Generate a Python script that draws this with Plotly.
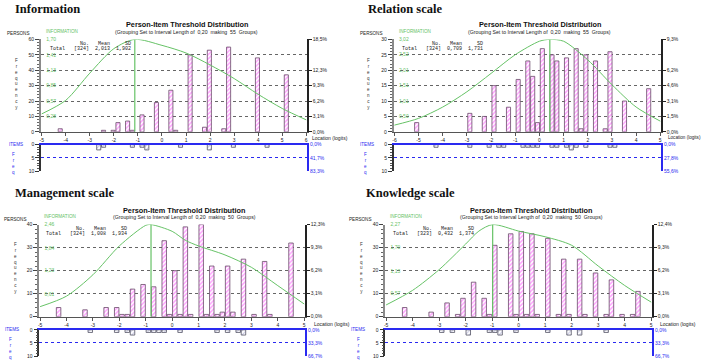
import plotly.graph_objects as go

W, H = 702, 364

# ---------------- data ----------------
titles = ["Information", "Relation scale", "Management scale", "Knowledge scale"]
groups = ["55", "55", "50", "50"]
stat_n = ["[324]", "[324]", "[324]", "[323]"]
stat_mean = ["2,013", "0,709", "1,008", "0,432"]
stat_sd = ["1,902", "1,731", "1,934", "1,374"]

x_ranges = [[-5, 6], [-6, 5], [-5, 5], [-5, 5]]
y_max = [60, 30, 40, 40]
y_dtick = [10, 5, 10, 10]
info_max = [1.70, 3.02, 2.46, 2.27]
info_ticks = [[0.28, 0.57, 0.85, 1.13, 1.41, 1.70],
              [0.50, 1.01, 1.51, 2.01, 2.52, 3.02],
              [0.61, 1.23, 1.84, 2.46],
              [0.57, 1.13, 1.70, 2.27]]
pct_vals = [[0, 10, 20, 30, 40, 60], [0, 5, 10, 15, 20, 30], [0, 10, 20, 30, 40], [0, 10, 20, 30, 40]]
pct_text = [["0,0%", "3,1%", "6,2%", "9,3%", "12,3%", "18,5%"],
            ["0,0%", "1,5%", "3,1%", "4,6%", "6,2%", "9,3%"],
            ["0,0%", "3,1%", "6,2%", "9,3%", "12,3%"],
            ["0,0%", "3,1%", "6,2%", "9,3%", "12,4%"]]
item_vals = [0, 5, 10]
item_pct_text = [["0,0%", "41,7%", "83,3%"], ["0,0%", "27,8%", "55,6%"],
                 ["0,0%", "33,3%", "66,7%"], ["0,0%", "33,3%", "66,7%"]]

# persons
p1_loc = [-4.23, -2.43, -2.03, -1.83, -1.43, -1.23, -0.83, -0.23, 0.37, 0.57, 1.17, 1.77, 1.97, 2.57, 2.77, 3.97, 5.17]
p1_cnt = [2, 1, 1, 6, 7, 1, 11, 19, 27, 1, 50, 3, 53, 2, 55, 48, 37]
p2_loc = [-5.08, -2.88, -2.28, -1.88, -1.28, -0.88, -0.48, -0.28, -0.08, 0.12, 0.52, 0.72, 1.12, 1.52, 1.72, 1.92, 2.32, 2.72, 2.92, 3.52, 4.52]
p2_cnt = [3, 6, 5, 15, 8, 17, 23, 18, 3, 27, 25, 23, 24, 27, 1, 25, 23, 1, 26, 10, 14]
p3_loc = [-4.3, -3.3, -2.5, -2.1, -1.9, -1.7, -1.5, -1.1, -0.7, -0.3, -0.1, 0.1, 0.3, 0.5, 0.7, 1.1, 1.3, 1.5, 1.7, 1.9, 2.1, 2.3, 2.7, 3.1, 3.5, 3.7, 4.5]
p3_cnt = [4, 3, 4, 4, 1, 1, 12, 14, 13, 33, 1, 20, 1, 39, 1, 40, 1, 22, 1, 2, 22, 2, 25, 1, 24, 1, 32]
p4_loc = [-4.3, -3.3, -2.7, -2.3, -2.1, -1.7, -1.3, -1.1, -0.9, -0.3, -0.1, 0.1, 0.3, 0.5, 0.7, 1.1, 1.5, 1.7, 1.9, 2.3, 2.5, 2.9, 3.3, 3.5, 3.9, 4.3, 4.5]
p4_cnt = [4, 2, 6, 1, 8, 15, 8, 1, 31, 36, 1, 37, 1, 36, 1, 34, 1, 25, 1, 25, 1, 19, 1, 16, 1, 1, 11]

# items
i1_loc = [-2.63, -2.43, -1.23, -0.83, -0.63, 0.77, 1.97, 2.97, 4.37]
i1_cnt = [2, 1, 1, 1, 2, 1, 2, 1, 1]
i2_loc = [-4.28, -2.88, -2.08, -1.68, -1.48, -0.68, -0.48, -0.28, -0.08, 0.52, 0.72, 1.12, 1.32, 1.52, 1.92, 2.92, 3.12]
i2_cnt = [1, 1, 1, 1, 1, 1, 1, 1, 1, 1, 1, 1, 2, 1, 1, 1, 1]
i3_loc = [-3.1, -2.1, -1.7, -1.5, -0.9, -0.7, -0.5, -0.3, 0.3, 1.7, 2.1, 2.5, 2.7]
i3_cnt = [1, 1, 1, 2, 1, 1, 1, 1, 1, 1, 1, 1, 2]
i4_loc = [-2.9, -2.5, -1.9, -1.1, -0.9, -0.7, -0.1, 1.1, 1.9, 2.3, 3.3]
i4_cnt = [1, 1, 2, 1, 1, 2, 1, 1, 2, 2, 1]

# test information curves (information units)
c1_x = [-5, -4, -3, -2, -1.13, 0, 1, 2, 3, 4, 5, 6]
c1_y = [0.33, 0.58, 1.08, 1.53, 1.70, 1.59, 1.45, 1.23, 0.98, 0.69, 0.43, 0.22]
c2_x = [-6, -5, -4, -3, -2, -1, 0, 0.43, 1, 2, 3, 4, 5]
c2_y = [0.22, 0.44, 0.81, 1.31, 1.91, 2.52, 2.96, 3.02, 2.96, 2.35, 1.54, 0.81, 0.35]
c3_x = [-5, -4, -3, -2, -1, -0.8, 0, 0.5, 1, 2, 3, 4, 5]
c3_y = [0.27, 0.55, 1.12, 1.89, 2.44, 2.46, 2.28, 2.04, 1.89, 1.65, 1.32, 0.83, 0.34]
c4_x = [-5, -4, -3, -2, -1.5, -0.98, 0, 1, 2, 3, 4, 5]
c4_y = [0.29, 0.65, 1.16, 1.79, 2.11, 2.27, 2.11, 1.97, 1.76, 1.25, 0.77, 0.36]
peak_x = [-1.13, 0.43, -0.8, -0.98]

persons = [(p1_loc, p1_cnt), (p2_loc, p2_cnt), (p3_loc, p3_cnt), (p4_loc, p4_cnt)]
items = [(i1_loc, i1_cnt), (i2_loc, i2_cnt), (i3_loc, i3_cnt), (i4_loc, i4_cnt)]
curves = [(c1_x, c1_y), (c2_x, c2_y), (c3_x, c3_y), (c4_x, c4_y)]

# ---------------- geometry (pixels) ----------------
geo = [
    dict(x0=41, x1=307, yt=37, yb=131, it=144, ib=171),
    dict(x0=393.7, x1=661, yt=37, yb=131, it=144, ib=171),
    dict(x0=39.3, x1=305, yt=225.3, yb=319, it=332.3, ib=359),
    dict(x0=385.3, x1=652, yt=225.3, yb=319, it=332.3, ib=359),
]
title_pos = [(13, 6.5), (366, 6.5), (12.7, 193), (363.7, 193)]
ctitle_pos = [(187, 22, 29.3), (539.5, 22, 29.3), (184, 211, 217.3), (531, 211, 217.3)]
persons_pos = [(5, 31), (358, 31), (2, 219.7), (347, 219.7)]
infolab_pos = [(44, 28.7), (397, 28.7), (42, 216.7), (388, 216.7)]
freq_pos = [(16.7, 82.5), (368, 82.5), (15, 269), (361, 269)]
stats_pos = [(48, 46.7), (400, 46.7), (44, 234.7), (391, 234.7)]
items_pos = [(7, 144), (358, 144), (3, 332.3), (349, 332.3)]
ifreq_pos = [(13, 163), (365, 163), (10, 351), (358, 351)]
loc_pos = [(310, 137), (666, 137), (311.7, 326), (657.7, 326)]
loc_size = [5, 4.6, 5, 5]


def fx(px):
    return px / W


def fy(py):
    return 1 - py / H


GREEN = "#66c266"
BLUE = "#2a2af0"
PINK = "#ff44ff"
SANS = "Liberation Sans"
NB = "\u00a0"
EPS = 0.03

fig = go.Figure()
layout = dict(width=W, height=H, margin=dict(l=0, r=0, t=0, b=0), autosize=False,
              paper_bgcolor="white", plot_bgcolor="white", showlegend=False,
              font=dict(family=SANS, size=5, color="#222"), barmode="overlay")
annotations = []

for p in range(4):
    g = geo[p]
    xm, xi, xl = 2 * p + 1, 2 * p + 2, 9 + p
    ym, yinf, ypct, yit, yitp = 5 * p + 1, 5 * p + 2, 5 * p + 3, 5 * p + 4, 5 * p + 5
    xr = x_ranges[p]
    xr_plot = [xr[0] - EPS, xr[1] + EPS]
    tv = list(range(xr[0], xr[1] + 1))
    tt = [str(v) for v in tv]
    tv_lab = [v - 0.002 if v == xr[1] else (v + 0.002 if v == xr[0] else v) for v in tv]

    loc, cnt = persons[p]
    fig.add_trace(go.Bar(x=loc, y=cnt, width=0.17, xaxis=f"x{xm}", yaxis=f"y{ym}",
                         marker=dict(color="white", line=dict(color="#6a4a6a", width=0.8),
                                     pattern=dict(shape="/", fgcolor=PINK, bgcolor="white",
                                                  size=3, solidity=0.5)),
                         hoverinfo="skip"))
    cx, cy = curves[p]
    fig.add_trace(go.Scatter(x=cx, y=cy, mode="lines", xaxis=f"x{xm}", yaxis=f"y{yinf}",
                             line=dict(color=GREEN, width=1, shape="spline", smoothing=0.8),
                             hoverinfo="skip"))
    fig.add_trace(go.Scatter(x=[peak_x[p], peak_x[p]], y=[0, info_max[p]], mode="lines",
                             xaxis=f"x{xm}", yaxis=f"y{yinf}",
                             line=dict(color=GREEN, width=1.2), hoverinfo="skip"))
    fig.add_trace(go.Scatter(x=[xr[0]], y=[0], mode="markers", marker=dict(opacity=0),
                             xaxis=f"x{xm}", yaxis=f"y{ypct}", hoverinfo="skip"))
    fig.add_trace(go.Scatter(x=[xr[0]], y=[0], mode="markers", marker=dict(opacity=0),
                             xaxis=f"x{xl}", yaxis=f"y{ym}", hoverinfo="skip"))
    il, ic = items[p]
    fig.add_trace(go.Bar(x=il, y=ic, width=0.17, xaxis=f"x{xi}", yaxis=f"y{yit}",
                         marker=dict(color="white", line=dict(color="#555566", width=0.8),
                                     pattern=dict(shape="/", fgcolor="#8080c0", bgcolor="white",
                                                  size=3, solidity=0.3)),
                         hoverinfo="skip"))
    fig.add_trace(go.Scatter(x=[xr[0]], y=[0], mode="markers", marker=dict(opacity=0),
                             xaxis=f"x{xi}", yaxis=f"y{yitp}", hoverinfo="skip"))

    dom_x = [fx(g["x0"]), fx(g["x1"])]
    layout[f"xaxis{xm}"] = dict(domain=dom_x, range=xr_plot, anchor=f"y{ym}", showline=True,
                                linecolor="#555", linewidth=1, ticks="outside", ticklen=3,
                                tickcolor="#555", tickmode="array", tickvals=tv,
                                showticklabels=False, showgrid=False, zeroline=False)
    layout[f"xaxis{xl}"] = dict(overlaying=f"x{xm}", anchor="free", position=fy(g["yb"] + 1),
                                side="bottom", range=xr_plot, showline=False, ticks="outside",
                                ticklen=2, tickcolor="rgba(0,0,0,0)", tickmode="array",
                                tickvals=tv_lab, ticktext=tt, tickfont=dict(size=5, color="#222"),
                                showgrid=False, zeroline=False, ticklabeloverflow="allow",
                                automargin=False)
    layout[f"xaxis{xi}"] = dict(domain=dom_x, range=xr_plot, anchor=f"y{yit}", side="top",
                                showline=True, linecolor=BLUE, linewidth=2,
                                showticklabels=False, ticks="", showgrid=False, zeroline=False)
    dom_m = [fy(g["yb"]), fy(g["yt"])]
    dom_i = [fy(g["ib"]), fy(g["it"])]
    layout[f"yaxis{ym}"] = dict(domain=dom_m, range=[0, y_max[p]], anchor=f"x{xm}",
                                showline=True, linecolor="#8a8a8a", linewidth=2,
                                ticks="outside", ticklen=4, tickcolor="#444", dtick=y_dtick[p],
                                tickfont=dict(size=5, color="#222"), showgrid=True,
                                gridcolor="#666", gridwidth=0.6, griddash="dot",
                                zeroline=False,
                                minor=dict(ticks="outside", ticklen=2, tickcolor="#666",
                                           dtick=y_dtick[p] / 5, showgrid=False))
    layout[f"yaxis{yinf}"] = dict(overlaying=f"y{ym}", anchor="free", position=fx(g["x0"] + 15),
                                  side="left",
                                  range=[0, info_max[p]], tickvals=info_ticks[p],
                                  ticktext=[f"{v:.2f}".replace(".", ",") for v in info_ticks[p]],
                                  ticks="", tickfont=dict(size=5, color=GREEN), showgrid=False,
                                  zeroline=False, showline=False)
    layout[f"yaxis{ypct}"] = dict(overlaying=f"y{ym}", anchor=f"x{xm}", side="right",
                                  range=[0, y_max[p]], tickvals=pct_vals[p], ticktext=pct_text[p],
                                  showline=True, linecolor="#222", linewidth=1.5,
                                  ticks="outside", ticklen=3, tickcolor="#222",
                                  tickfont=dict(size=5, color="#222"), showgrid=False,
                                  zeroline=False)
    layout[f"yaxis{yit}"] = dict(domain=dom_i, range=[10, 0], anchor=f"x{xi}",
                                 showline=True, linecolor="#333", linewidth=1.5,
                                 ticks="outside", ticklen=4, tickcolor="#333",
                                 tickvals=item_vals, ticktext=[str(v) for v in item_vals],
                                 tickfont=dict(size=5, color="#222"), showgrid=True,
                                 gridcolor=BLUE, gridwidth=0.8, griddash="dot", zeroline=False,
                                 minor=dict(ticks="outside", ticklen=2, tickcolor="#555",
                                            dtick=1, showgrid=False))
    layout[f"yaxis{yitp}"] = dict(overlaying=f"y{yit}", anchor=f"x{xi}", side="right",
                                  range=[10, 0], tickvals=item_vals, ticktext=item_pct_text[p],
                                  showline=True, linecolor=BLUE, linewidth=2, ticks="",
                                  tickfont=dict(size=5, color=BLUE), showgrid=False,
                                  zeroline=False)

    def ann(text, px, py, size, color="#222", xanchor="left", family=SANS, yanchor="middle"):
        annotations.append(dict(text=text, x=fx(px), y=fy(py), xref="paper", yref="paper",
                                xanchor=xanchor, yanchor=yanchor, showarrow=False,
                                font=dict(size=size, color=color, family=family)))

    tx, ty = title_pos[p]
    ann(f"<b>{titles[p]}</b>", tx, ty, 12.5, "#111", family="Liberation Serif")
    ccx, cty, csy = ctitle_pos[p]
    ann("<b>Person-Item Threshold Distribution</b>", ccx, cty, 7.3, "#111", xanchor="center")
    sub = f"(Grouping Set to Interval Length of{NB*2}0,20{NB*2}making{NB*2}{groups[p]}{NB*2}Groups)"
    ann(sub, ccx, csy, 5.2, "#222", xanchor="center")
    ann("PERSONS", *persons_pos[p], 4.6)
    ann("INFORMATION", *infolab_pos[p], 4.6, GREEN)
    ann("<br>".join("Frequency"), *freq_pos[p], 4.5, "#333", xanchor="center")
    sx, sy = stats_pos[p]
    line1 = NB * 10 + "No." + NB * 3 + "Mean" + NB * 5 + "SD"
    line2 = "Total" + NB * 3 + stat_n[p] + NB * 2 + stat_mean[p] + NB * 2 + stat_sd[p]
    ann(line1, sx, sy - 5, 5, family="Liberation Mono")
    ann(line2, sx, sy, 5, family="Liberation Mono")
    ann("ITEMS", *items_pos[p], 4.6, BLUE)
    ann("<br>".join("Freq"), *ifreq_pos[p], 4.5, BLUE, xanchor="center")
    ann("Location (logits)", *loc_pos[p], loc_size[p])

layout["annotations"] = annotations
fig.update_layout(**layout)
fig.write_html("out.html")
